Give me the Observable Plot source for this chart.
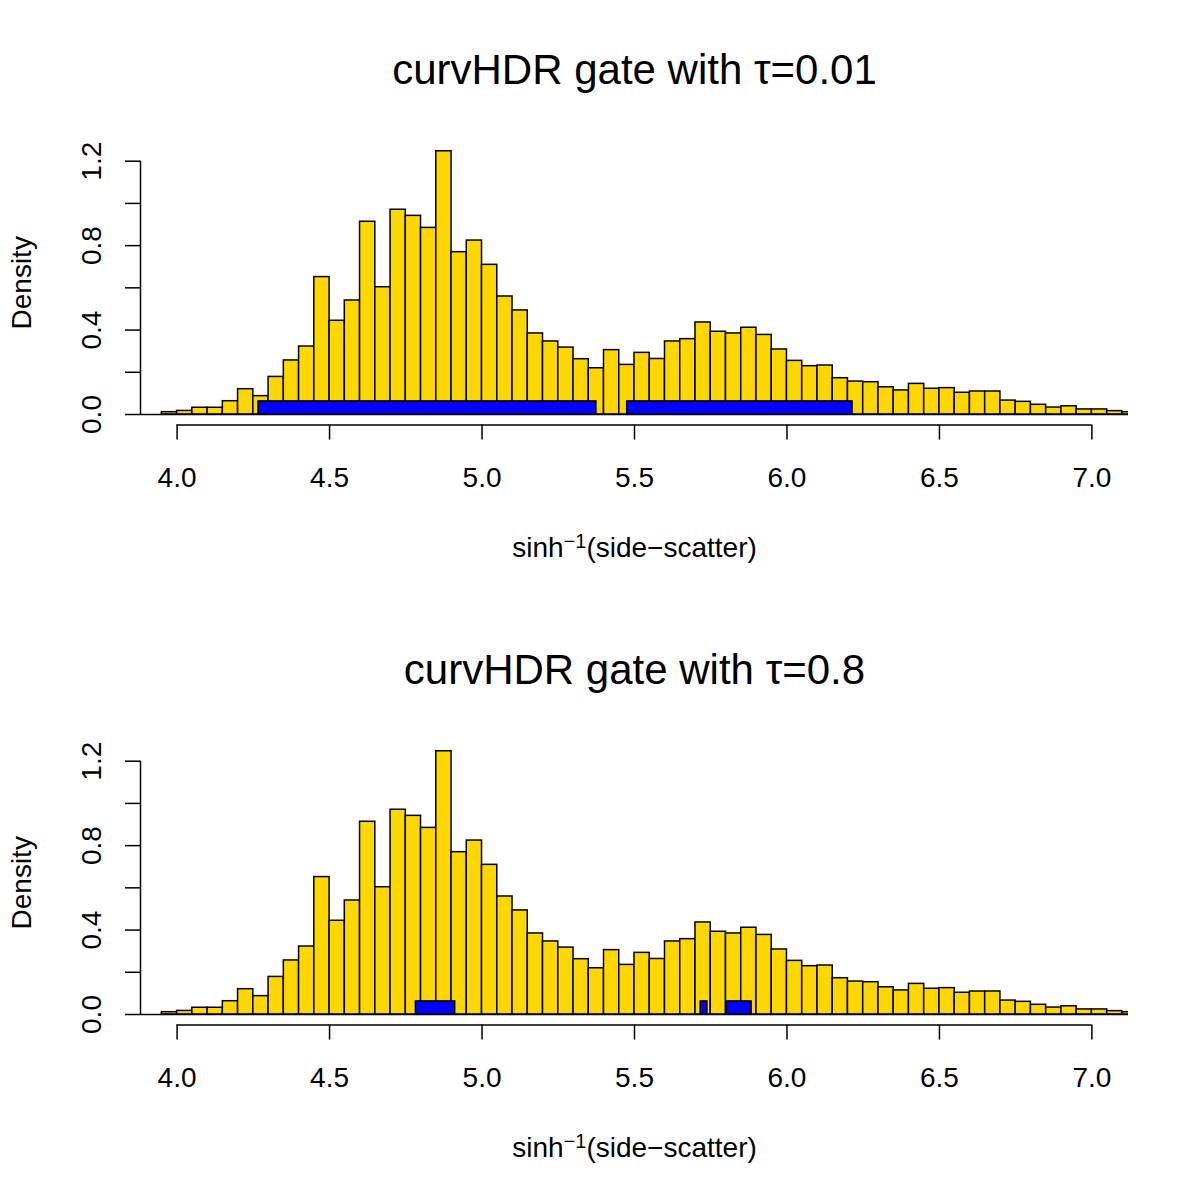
<!DOCTYPE html>
<html>
<head>
<meta charset="utf-8">
<script src="https://cdn.jsdelivr.net/npm/d3@7"></script>
<script src="https://cdn.jsdelivr.net/npm/@observablehq/plot@0.6"></script>
<style>
  body { margin: 0; background: #ffffff; }
  #chart svg { display: block; }
</style>
</head>
<body>
<div id="chart"></div>
<script>
// ---- data ----
const binLeft = [3.85, 3.90, 3.95, 4.00, 4.05, 4.10, 4.15, 4.20, 4.25, 4.30, 4.35, 4.40, 4.45, 4.50, 4.55, 4.60, 4.65, 4.70, 4.75, 4.80, 4.85, 4.90, 4.95,
  5.00, 5.05, 5.10, 5.15, 5.20, 5.25, 5.30, 5.35, 5.40, 5.45, 5.50, 5.55, 5.60, 5.65, 5.70, 5.75, 5.80, 5.85, 5.90, 5.95,
  6.00, 6.05, 6.10, 6.15, 6.20, 6.25, 6.30, 6.35, 6.40, 6.45, 6.50, 6.55, 6.60, 6.65, 6.70, 6.75, 6.80, 6.85, 6.90, 6.95,
  7.00, 7.05, 7.10];
const binWidth = 0.05;
const density = [0, 0, 0.011, 0.017, 0.032, 0.032, 0.063, 0.120, 0.087, 0.178, 0.256, 0.322, 0.651, 0.444, 0.540, 0.913, 0.603, 0.970, 0.941, 0.884, 1.247, 0.769, 0.824,
  0.709, 0.559, 0.493, 0.384, 0.346, 0.317, 0.262, 0.219, 0.305, 0.235, 0.292, 0.263, 0.346, 0.357, 0.436, 0.392, 0.384, 0.411, 0.377, 0.308,
  0.254, 0.229, 0.232, 0.172, 0.156, 0.153, 0.129, 0.114, 0.145, 0.122, 0.125, 0.103, 0.109, 0.109, 0.066, 0.060, 0.046, 0.033, 0.039, 0.024,
  0.024, 0.016, 0.011];

const gateHeight = 0.062;
const gatesTop = [[4.267, 5.375], [5.476, 6.215]];
const gatesBottom = [[4.783, 4.912], [5.717, 5.739], [5.802, 5.884]];

const titles = ["curvHDR gate with \u03c4=0.01", "curvHDR gate with \u03c4=0.8"];
const xLabelParts = ["sinh", "\u22121", "(side\u2212scatter)"];
const xLabel = xLabelParts.join("");
const yLabel = "Density";
const xTicks = [4.0, 4.5, 5.0, 5.5, 6.0, 6.5, 7.0];
const yTicks = [0.0, 0.2, 0.4, 0.6, 0.8, 1.0, 1.2];
const yTickLabels = [0.0, 0.4, 0.8, 1.2];

const xDomain = [3.88, 7.12];
const yDomain = [-0.0502, 1.298];

const bins = binLeft.map((lo, i) => ({lo, hi: lo + binWidth, d: density[i]}));
const font = "'Liberation Sans', Arial, Helvetica, sans-serif";

function panel(title, gates) {
  const gateData = gates.map(([lo, hi]) => ({lo, hi, h: gateHeight}));
  const svg = Plot.plot({
    width: 1200,
    height: 600,
    marginLeft: 140,
    marginRight: 72,
    marginTop: 140,
    marginBottom: 175.4,
    style: {fontFamily: font, background: "#ffffff", color: "#000000", overflow: "visible"},
    x: {domain: xDomain},
    y: {domain: yDomain},
    marks: [
      Plot.rectY(bins, {x1: "lo", x2: "hi", y: "d", fill: "#FFD700", stroke: "#000000", strokeWidth: 1.5, clip: true}),
      Plot.ruleY(bins, {y: 0, x1: "lo", x2: "hi", stroke: "#000000", strokeWidth: 1.5, clip: true}),
      Plot.rectY(gateData, {x1: "lo", x2: "hi", y: "h", fill: "#0000FF", stroke: "#000000", strokeWidth: 1.5, clip: true}),
      Plot.axisX({ticks: xTicks, tickSize: 15, tickPadding: 27, fontSize: 28, tickFormat: d3.format(".1f"), label: null, strokeWidth: 1.5}),
      Plot.ruleY([yDomain[0]], {x1: xTicks[0], x2: xTicks[xTicks.length - 1], strokeWidth: 1.5}),
      Plot.axisY({ticks: yTicks, tickSize: 15, tickFormat: () => "", label: null, strokeWidth: 1.5}),
      Plot.ruleX([xDomain[0]], {y1: yTicks[0], y2: yTicks[yTicks.length - 1], strokeWidth: 1.5}),
      Plot.text(yTickLabels, {y: d => d, text: d => d.toFixed(1), frameAnchor: "left", dx: -48, rotate: -90, fontSize: 28, textAnchor: "middle", lineAnchor: "middle"}),
      Plot.text([yLabel], {text: d => d, frameAnchor: "left", dx: -118, rotate: -90, fontSize: 28, textAnchor: "middle", lineAnchor: "middle"}),
      Plot.text([xLabel], {text: d => d, frameAnchor: "bottom", dy: 123, fontSize: 28, textAnchor: "middle", lineAnchor: "middle"}),
      Plot.text([title], {text: d => d, frameAnchor: "top", dy: -70, fontSize: 42, textAnchor: "middle", lineAnchor: "middle"})
    ]
  });
  // render the superscript of the x label as a real superscript
  svg.querySelectorAll("text").forEach(t => {
    if (t.textContent === xLabel) {
      const sel = d3.select(t);
      sel.text("");
      sel.append("tspan").text(xLabelParts[0]);
      sel.append("tspan").attr("font-size", 20).attr("dy", "-0.45em").text(xLabelParts[1]);
      sel.append("tspan").attr("dy", "0.32em").text(xLabelParts[2]);
    }
  });
  return svg;
}

const chart = document.getElementById("chart");
chart.appendChild(panel(titles[0], gatesTop));
chart.appendChild(panel(titles[1], gatesBottom));
</script>
</body>
</html>
